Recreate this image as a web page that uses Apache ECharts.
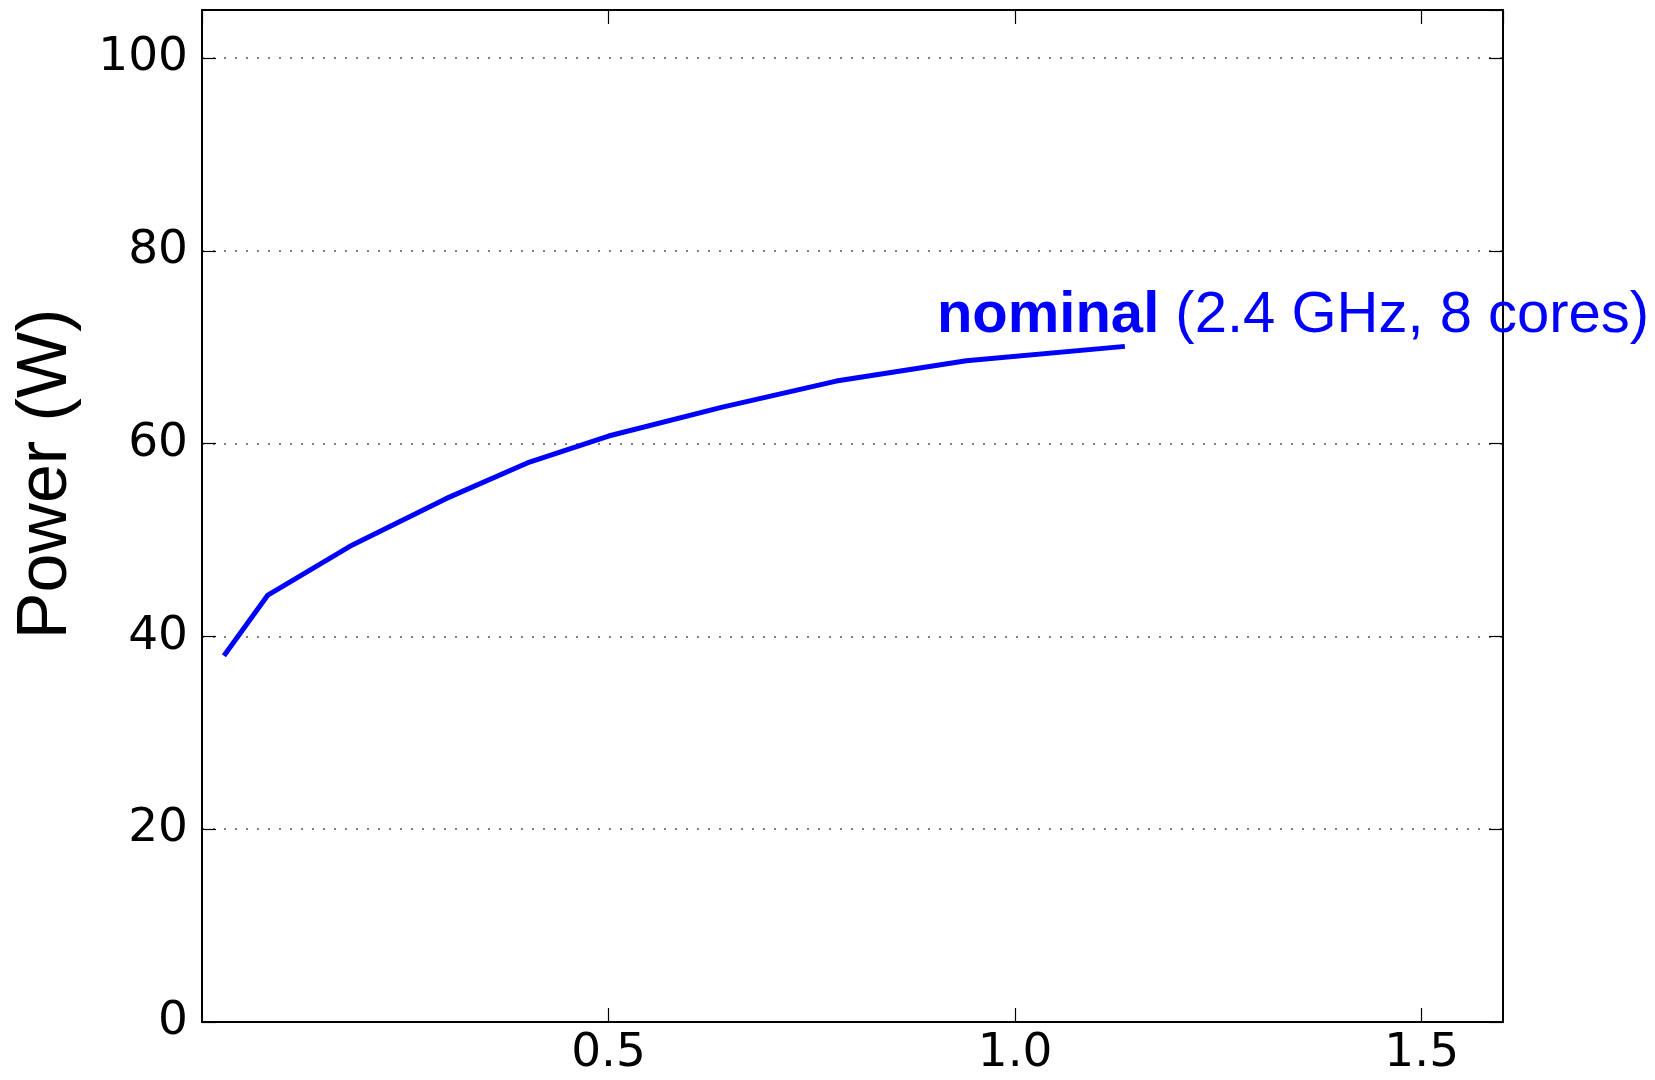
<!DOCTYPE html>
<html>
<head>
<meta charset="utf-8">
<script src="https://cdn.jsdelivr.net/npm/echarts@6/dist/echarts.min.js"></script>
<style>
  html, body { margin: 0; padding: 0; background: #fff; }
  #powerLine { width: 1655px; height: 1080px; }
</style>
</head>
<body>
<div id="powerLine"></div>
<script>
// x position along the curve, power in watts
var xValues = [0.027, 0.081, 0.185, 0.30, 0.40, 0.50, 0.64, 0.78, 0.94, 1.135];
var powerValues = [38.0, 44.3, 49.5, 54.3, 58.0, 60.8, 63.8, 66.5, 68.6, 70.1];
var yTicks = [0, 20, 40, 60, 80, 100];
var xTicks = [0.5, 1.0, 1.5];
var nominalBold = 'nominal';
var nominalRest = '(2.4 GHz, 8 cores)';

var lineData = xValues.map(function (x, i) { return [x, powerValues[i]]; });
var last = lineData[lineData.length - 1];

var tickFont = 'DejaVu Sans';
var frameLine = { show: true, onZero: false, lineStyle: { color: '#000', width: 2 } };
var innerTick = { show: true, inside: true, length: 14, lineStyle: { color: '#000', width: 1.2 } };

var options = {
  animation: false,
  backgroundColor: '#fff',
  grid: { left: 202, right: 152, top: 10, bottom: 58 },
  xAxis: [
    {
      type: 'value',
      min: 0,
      max: 1.6,
      interval: 0.5,
      axisLine: frameLine,
      axisTick: innerTick,
      axisLabel: {
        color: '#000',
        fontFamily: tickFont,
        fontSize: 47,
        margin: 8,
        showMinLabel: false,
        showMaxLabel: false,
        formatter: function (v) {
          return xTicks.some(function (t) { return Math.abs(t - v) < 1e-6; }) ? v.toFixed(1) : '';
        }
      },
      splitLine: { show: false }
    },
    {
      type: 'value',
      position: 'top',
      min: 0,
      max: 1.6,
      interval: 0.5,
      axisLine: frameLine,
      axisTick: innerTick,
      axisLabel: { show: false },
      splitLine: { show: false }
    }
  ],
  yAxis: [
    {
      type: 'value',
      min: 0,
      max: 105,
      interval: 20,
      name: 'Power (W)',
      nameLocation: 'middle',
      nameRotate: 90,
      nameGap: 120,
      nameTextStyle: {
        color: '#000',
        fontFamily: 'Liberation Sans',
        fontSize: 70,
        padding: [0, 0, 0, 84]
      },
      axisLine: frameLine,
      axisTick: innerTick,
      axisLabel: {
        color: '#000',
        fontFamily: tickFont,
        fontSize: 47,
        margin: 14,
        showMaxLabel: false,
        formatter: function (v) { return yTicks.indexOf(v) >= 0 ? String(v) : ''; }
      },
      splitLine: {
        show: true,
        lineStyle: { color: '#555', width: 1.6, type: [2, 9] }
      }
    },
    {
      type: 'value',
      position: 'right',
      min: 0,
      max: 105,
      interval: 20,
      axisLine: frameLine,
      axisTick: innerTick,
      axisLabel: { show: false },
      splitLine: { show: false }
    }
  ],
  series: [
    {
      type: 'line',
      data: lineData,
      showSymbol: false,
      lineStyle: { color: '#0000ff', width: 5 },
      markPoint: {
        symbol: 'circle',
        symbolSize: 0,
        silent: true,
        data: [{ coord: last }],
        label: {
          show: true,
          position: 'right',
          distance: 0,
          offset: [-188, -30],
          formatter: '{b|' + nominalBold + '}{r|\u00a0' + nominalRest + '}',
          rich: {
            b: { color: '#0000ff', fontFamily: 'Liberation Sans', fontWeight: 'bold', fontSize: 58 },
            r: { color: '#0000ff', fontFamily: 'Liberation Sans', fontSize: 58 }
          }
        }
      }
    }
  ]
};

var chart = echarts.init(document.getElementById('powerLine'));
chart.setOption(options);
</script>
</body>
</html>
